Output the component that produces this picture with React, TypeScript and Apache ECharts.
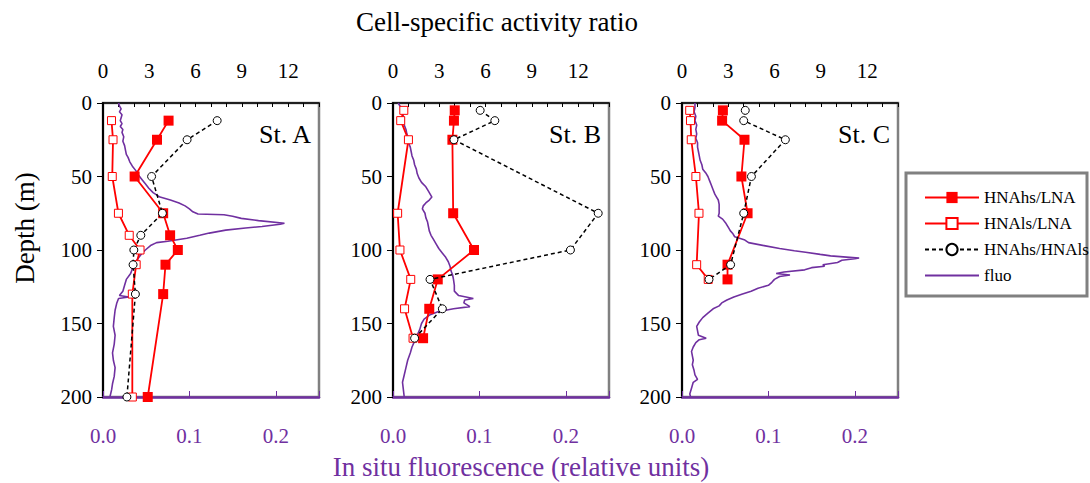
import React, { useEffect, useRef } from "react";
import * as echarts from "echarts";

const FONT = "'Liberation Serif', 'Times New Roman', serif";
const PURPLE = "#7030a0";
const RED = "#ff0000";

// ---- Station A ----
const depthsA = [12, 25, 50, 75, 90, 100, 110, 130, 200];
const hsLnaA = [4.25, 3.5, 2.05, 3.9, 4.35, 4.85, 4.05, 3.9, 2.9];
const lsLnaA = [0.55, 0.65, 0.6, 1.0, 1.7, 2.4, 2.15, 1.9, 1.9];
const hsLsA = [7.4, 5.45, 3.15, 3.85, 2.45, 2.0, 1.95, 2.1, 1.55];

// ---- Station B ----
const depthsB = [5, 12, 25, 75, 100, 120, 140, 160];
const hsLnaB = [4.0, 3.95, 3.85, 3.9, 5.25, 2.9, 2.35, 1.95];
const lsLnaB = [0.7, 0.5, 1.0, 0.3, 0.45, 1.15, 0.75, 1.3];
const hsLsB = [5.65, 6.6, 3.95, 13.3, 11.5, 2.4, 3.2, 1.4];

// ---- Station C ----
const depthsC = [5, 12, 25, 50, 75, 110, 120];
const hsLnaC = [2.65, 2.6, 4.05, 3.85, 4.25, 2.95, 2.95];
const lsLnaC = [0.5, 0.55, 0.6, 0.9, 1.1, 0.95, 1.7];
const hsLsC = [4.1, 4.0, 6.7, 4.5, 4.0, 3.15, 1.75];

// ---- Fluorescence profiles ----
const fluoDepthA = [0, 2, 4, 6, 8, 10, 12, 14, 16, 18, 20, 23, 26, 29, 32, 35, 37, 40, 43, 46, 49, 52, 55, 58, 61, 64, 66, 68, 70, 72, 74, 75.5, 76, 77, 78.5, 80, 81.8, 82.5, 84, 85, 86.5, 88.5, 90, 92, 94, 95, 97, 100, 103, 107, 111, 116, 120, 124, 128, 131, 132, 133, 136, 141, 146, 152, 158, 164, 170, 175, 180, 186, 191, 195, 200];
const fluoA = [0.018, 0.019, 0.021, 0.019, 0.022, 0.021, 0.020, 0.022, 0.020, 0.023, 0.022, 0.024, 0.023, 0.025, 0.026, 0.027, 0.029, 0.031, 0.034, 0.038, 0.041, 0.045, 0.049, 0.053, 0.058, 0.066, 0.078, 0.088, 0.095, 0.100, 0.104, 0.110, 0.140, 0.150, 0.160, 0.180, 0.210, 0.205, 0.184, 0.165, 0.142, 0.123, 0.112, 0.097, 0.075, 0.062, 0.055, 0.049, 0.044, 0.039, 0.035, 0.032, 0.027, 0.025, 0.023, 0.019, 0.030, 0.018, 0.016, 0.014, 0.013, 0.012, 0.014, 0.013, 0.011, 0.012, 0.014, 0.013, 0.011, 0.010, 0.008];

const fluoDepthB = [0, 3, 6, 9, 12, 15, 18, 21, 24, 27, 30, 33, 36, 39, 42, 45, 48, 51, 54, 57, 60, 62, 64, 66, 68, 70, 72, 75, 78, 81, 84, 87, 90, 93, 96, 99, 102, 105, 108, 111, 114, 117, 120, 124, 128, 131, 133, 134, 136, 138.5, 140, 142, 144, 147, 150, 154, 158, 162, 166, 170, 175, 180, 185, 190, 195, 200];
const fluoB = [0.006, 0.009, 0.010, 0.012, 0.013, 0.013, 0.015, 0.016, 0.018, 0.018, 0.020, 0.021, 0.022, 0.024, 0.025, 0.027, 0.028, 0.030, 0.033, 0.038, 0.041, 0.043, 0.045, 0.042, 0.038, 0.035, 0.034, 0.037, 0.038, 0.040, 0.041, 0.042, 0.044, 0.047, 0.050, 0.053, 0.057, 0.061, 0.064, 0.066, 0.067, 0.069, 0.070, 0.071, 0.071, 0.076, 0.093, 0.083, 0.082, 0.089, 0.070, 0.052, 0.043, 0.036, 0.033, 0.031, 0.028, 0.025, 0.022, 0.020, 0.017, 0.015, 0.013, 0.011, 0.012, 0.013];

const fluoDepthC = [0, 3, 6, 9, 12, 15, 18, 21, 24, 27, 30, 33, 36, 39, 42, 45, 48, 50, 53, 56, 59, 62, 64, 66, 69, 72, 75, 77, 79, 82, 85, 87, 89, 91, 93, 95, 97, 99, 100.5, 101.5, 103, 104, 105.5, 106, 107, 108.5, 110, 111, 112, 113.5, 115, 116, 117, 118, 120, 122, 124, 126, 128, 130, 132, 134, 136, 138, 140, 143, 146, 149, 152, 155, 158, 160, 161, 163, 166, 169, 172, 175, 178, 182, 185, 188, 190, 194, 198, 200];
const fluoC = [0.015, 0.015, 0.014, 0.016, 0.015, 0.017, 0.016, 0.017, 0.016, 0.018, 0.018, 0.019, 0.020, 0.021, 0.023, 0.024, 0.028, 0.030, 0.032, 0.034, 0.036, 0.038, 0.040, 0.042, 0.043, 0.043, 0.043, 0.042, 0.047, 0.051, 0.054, 0.056, 0.059, 0.061, 0.072, 0.077, 0.095, 0.113, 0.130, 0.143, 0.160, 0.172, 0.205, 0.200, 0.185, 0.180, 0.163, 0.165, 0.150, 0.142, 0.118, 0.109, 0.125, 0.113, 0.107, 0.104, 0.100, 0.088, 0.080, 0.070, 0.060, 0.052, 0.046, 0.043, 0.036, 0.030, 0.024, 0.020, 0.017, 0.018, 0.019, 0.028, 0.020, 0.016, 0.013, 0.011, 0.012, 0.013, 0.012, 0.014, 0.015, 0.018, 0.013, 0.011, 0.009, 0.010];

const depthTicks = [0, 50, 100, 150, 200];
const ratioLabels = [0, 3, 6, 9, 12];
const fluoLabels = [0, 0.1, 0.2];
const stationNames = ["St. A", "St. B", "St. C"];
const legendNames = ["HNAhs/LNA", "HNAls/LNA", "HNAhs/HNAls", "fluo"];

const stations = [
  { depths: depthsA, hsLna: hsLnaA, lsLna: lsLnaA, hsLs: hsLsA, fd: fluoDepthA, fv: fluoA },
  { depths: depthsB, hsLna: hsLnaB, lsLna: lsLnaB, hsLs: hsLsB, fd: fluoDepthB, fv: fluoB },
  { depths: depthsC, hsLna: hsLnaC, lsLna: lsLnaC, hsLs: hsLsC, fd: fluoDepthC, fv: fluoC },
];

const zip = (xs: number[], ys: number[]) => xs.map((x, i) => [x, ys[i]]);

export default function App() {
  const ref = useRef<HTMLDivElement>(null);
  useEffect(() => {
    const chart = echarts.init(ref.current!, null, { renderer: "svg" });
    const lefts = [103, 393, 682];
    const top = 103;
    const width = 216;
    const height = 294;

    const grid: any[] = [];
    const xAxis: any[] = [];
    const yAxis: any[] = [];
    const series: any[] = [];
    const graphic: any[] = [];

    stations.forEach((st, i) => {
      grid.push({
        left: lefts[i], top, width, height,
        show: true, borderColor: "#808080", borderWidth: 2.5, backgroundColor: "#fff",
      });
      xAxis.push({
        gridIndex: i, type: "value", position: "top", min: 0, max: 14, interval: 1,
        axisLine: { show: true, onZero: false, lineStyle: { color: "#000", width: 1.5 } },
        axisTick: { show: true, inside: true, length: 4, lineStyle: { color: "#000", width: 1 } },
        splitLine: { show: false },
        axisLabel: {
          fontFamily: FONT, fontSize: 21, color: "#000", margin: 22,
          formatter: (v: number) => (ratioLabels.includes(v) ? String(v) : ""),
        },
      });
      xAxis.push({
        gridIndex: i, type: "value", position: "bottom", min: 0, max: 0.25, interval: 0.1,
        axisLine: { show: true, onZero: false, lineStyle: { color: PURPLE, width: 2.5 } },
        axisTick: { show: true, inside: true, length: 6, lineStyle: { color: PURPLE, width: 1 } },
        splitLine: { show: false },
        axisLabel: {
          fontFamily: FONT, fontSize: 21, color: PURPLE, margin: 28,
          formatter: (v: number) => {
            const f = fluoLabels.find((t) => Math.abs(t - v) < 1e-9);
            return f === undefined ? "" : f.toFixed(1);
          },
        },
      });
      yAxis.push({
        gridIndex: i, type: "value", inverse: true, min: 0, max: 200, interval: 50,
        axisLine: { show: true, onZero: false, lineStyle: { color: "#000", width: 2 } },
        axisTick: { show: true, inside: false, length: 6, lineStyle: { color: "#000", width: 1 } },
        splitLine: { show: false },
        axisLabel: {
          fontFamily: FONT, fontSize: 21, color: "#000", margin: 11,
          formatter: (v: number) => (depthTicks.includes(v) ? String(v) : ""),
        },
      });

      series.push({
        name: "fluo", type: "line", xAxisIndex: 2 * i + 1, yAxisIndex: i,
        data: zip(st.fv, st.fd), symbol: "none", showSymbol: false,
        lineStyle: { color: PURPLE, width: 1.6 }, itemStyle: { color: PURPLE },
        z: 2,
      });
      series.push({
        name: "HNAhs/LNA", type: "line", xAxisIndex: 2 * i, yAxisIndex: i,
        data: zip(st.hsLna, st.depths), symbol: "rect", symbolSize: 10,
        lineStyle: { color: RED, width: 1.8 }, itemStyle: { color: RED },
        z: 3,
      });
      series.push({
        name: "HNAls/LNA", type: "line", xAxisIndex: 2 * i, yAxisIndex: i,
        data: zip(st.lsLna, st.depths), symbol: "rect", symbolSize: 8,
        lineStyle: { color: RED, width: 1.8 },
        itemStyle: { color: "#fff", borderColor: RED, borderWidth: 1 },
        z: 3,
      });
      series.push({
        name: "HNAhs/HNAls", type: "line", xAxisIndex: 2 * i, yAxisIndex: i,
        data: zip(st.hsLs, st.depths), symbol: "circle", symbolSize: 8,
        lineStyle: { color: "#000", width: 1.5, type: [4, 3] },
        itemStyle: { color: "#fff", borderColor: "#000", borderWidth: 1 },
        z: 4,
      });

      graphic.push({
        type: "text", x: lefts[i] + 208, y: 134,
        style: { text: stationNames[i], font: `26px ${FONT}`, fill: "#000", align: "right", verticalAlign: "middle" },
        z: 10,
      });
    });

    graphic.push(
      {
        type: "text", x: 497, y: 22,
        style: { text: "Cell-specific activity ratio", font: `27px ${FONT}`, fill: "#000", align: "center", verticalAlign: "middle" },
      },
      {
        type: "text", x: 521, y: 467,
        style: { text: "In situ fluorescence (relative units)", font: `27px ${FONT}`, fill: PURPLE, align: "center", verticalAlign: "middle" },
      },
      {
        type: "text", x: 25, y: 228, rotation: Math.PI / 2,
        style: { text: "Depth (m)", font: `27px ${FONT}`, fill: "#000", align: "center", verticalAlign: "middle" },
      },
      {
        type: "rect", shape: { x: 906, y: 173, width: 181, height: 123 },
        style: { fill: "#fff", stroke: "#808080", lineWidth: 3 }, z: -1,
      }
    );

    chart.setOption({
      animation: false,
      backgroundColor: "#fff",
      grid, xAxis, yAxis, series, graphic,
      legend: {
        data: [
          legendNames[0],
          legendNames[1],
          legendNames[2],
          { name: legendNames[3], itemStyle: { opacity: 0 } },
        ],
        orient: "vertical", left: 919, top: 184,
        itemWidth: 54, itemHeight: 14, itemGap: 9, selectedMode: false,
        textStyle: { fontFamily: FONT, fontSize: 17, color: "#000" },
        z: 10,
      },
    });
    return () => chart.dispose();
  }, []);
  return (
    <div
      ref={ref}
      style={{ position: "absolute", left: 0, top: 0, width: 1090, height: 483, background: "#fff" }}
    />
  );
}
